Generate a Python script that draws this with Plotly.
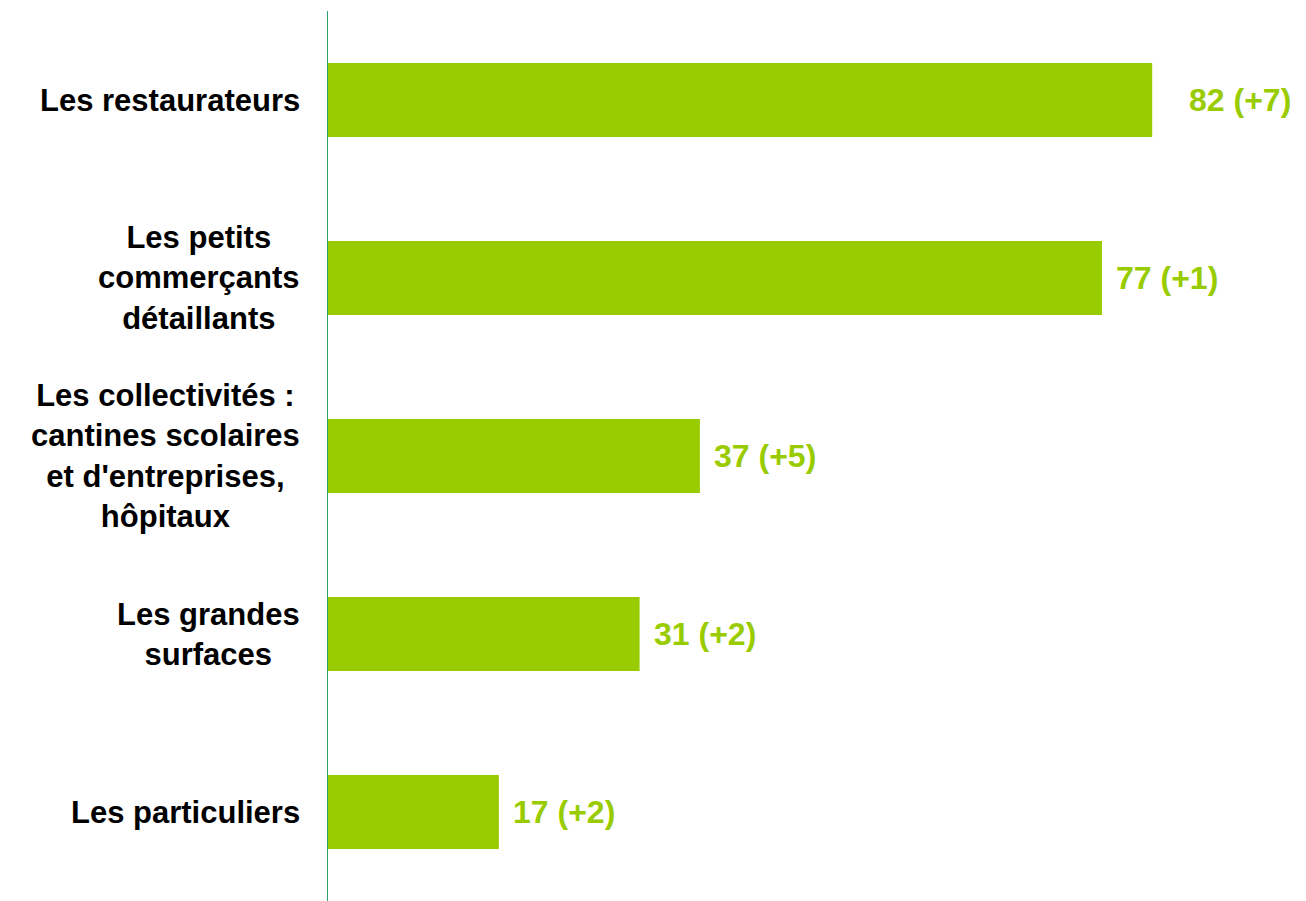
import plotly.graph_objects as go

# Données
categories = [
    "Les restaurateurs",
    "Les petits<br>commerçants<br>détaillants",
    "Les collectivités :<br>cantines scolaires<br>et d'entreprises,<br>hôpitaux",
    "Les grandes<br>surfaces",
    "Les particuliers",
]
values = [82, 77, 37, 31, 17]
changes = ["+7", "+1", "+5", "+2", "+2"]

GREEN = "#99CC00"
AXIS_GREEN = "#2E9E6A"
FONT = "Liberation Sans, Arial, sans-serif"

labels = [f"{v} ({c})" for v, c in zip(values, changes)]

fig = go.Figure(go.Bar(
    x=values,
    y=categories,
    orientation="h",
    marker=dict(color=GREEN, line=dict(width=0)),
    hoverinfo="skip",
))

# étiquettes de valeur à droite des barres
for i, (cat, v, lab) in enumerate(zip(categories, values, labels)):
    fig.add_annotation(
        x=v, y=cat, xref="x", yref="y",
        text=f"<b>{lab}</b>", showarrow=False,
        xanchor="left", xshift=35 if i == 0 else 12,
        font=dict(family=FONT, size=32, color=GREEN),
    )

# libellés des catégories, centrés sur plusieurs lignes
for cat in categories:
    fig.add_annotation(
        x=0, y=cat, xref="paper", yref="y",
        text=f"<b>{cat}</b>", showarrow=False,
        xanchor="right", align="center", xshift=-26,
        font=dict(family=FONT, size=31, color="#000000"),
    )

# la page ajoute une marge de 8 px autour de la figure
fig.update_layout(
    width=1298,
    height=893,
    margin=dict(l=320, r=0, t=3, b=0),
    paper_bgcolor="white",
    plot_bgcolor="white",
    bargap=0.584,
    showlegend=False,
    font=dict(family=FONT),
    xaxis=dict(range=[0, 97.3], showticklabels=False, showgrid=False,
               zeroline=False, showline=False, fixedrange=True),
    yaxis=dict(autorange="reversed", showticklabels=False, showgrid=False,
               zeroline=False, showline=True, linecolor=AXIS_GREEN,
               linewidth=1, ticks="", fixedrange=True),
)

fig.write_html("out.html")
